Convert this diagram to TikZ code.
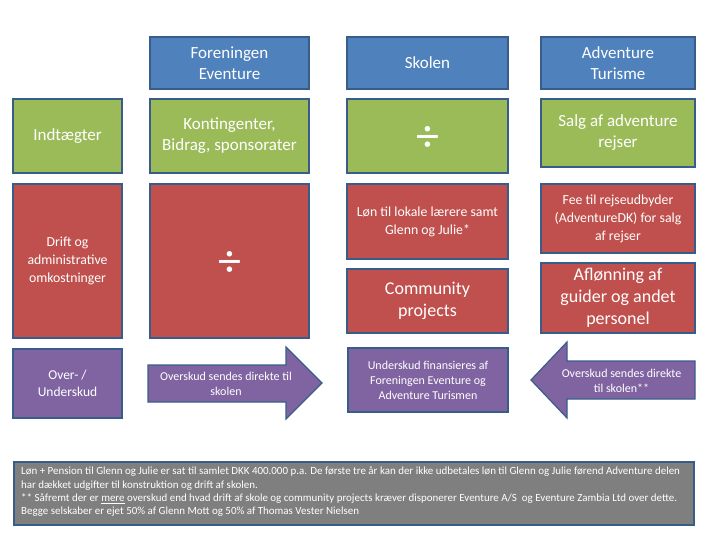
\documentclass[tikz,border=0pt]{standalone}
\usepackage{fontspec}
\setmainfont{Carlito}
\usetikzlibrary{positioning}

\definecolor{hdrblue}{HTML}{4F81BD}
\definecolor{incgreen}{HTML}{9BBB59}
\definecolor{costred}{HTML}{C0504D}
\definecolor{sumpurple}{HTML}{8064A2}
\definecolor{notegray}{HTML}{7F7F7F}
\definecolor{edgeblue}{HTML}{385D8A}

\tikzset{
  box/.style={rectangle,draw=edgeblue,line width=1.2pt,text=white,align=center,inner sep=1pt},
  hdrbox/.style={box,fill=hdrblue,font=\fontsize{17}{21}\selectfont},
  incbox/.style={box,fill=incgreen,font=\fontsize{17}{21}\selectfont},
  costbox/.style={box,fill=costred,font=\fontsize{13.8}{18}\selectfont},
  bigcost/.style={box,fill=costred,font=\fontsize{18}{22}\selectfont},
  sumbox/.style={box,fill=sumpurple,font=\fontsize{13.5}{17}\selectfont},
  arrowshape/.style={draw=edgeblue,line width=1.2pt,fill=sumpurple},
  arrowtext/.style={text=white,align=center,font=\fontsize{12}{15}\selectfont},
  divsign/.style={text=white,font=\fontsize{46}{46}\selectfont}
}

\begin{document}
\begin{tikzpicture}[x=1pt,y=-1pt]
\useasboundingbox (0,0) rectangle (720,540);

% kolonne-overskrifter
\node[hdrbox,minimum width=159,minimum height=52] (foren) at (229.5,63) {Foreningen\\Eventure};
\node[hdrbox,minimum width=161,minimum height=52] (skolen) at (427.5,63) {Skolen};
\node[hdrbox,minimum width=154,minimum height=52] (advtur) at (618,63) {Adventure\\Turisme};

% indtaegter
\node[incbox,minimum width=109,minimum height=74] (indt) at (67.5,136) {Indtægter};
\node[incbox,minimum width=159,minimum height=74] (konting) at (229.5,136) {Kontingenter,\\Bidrag, sponsorater};
\node[incbox,minimum width=161,minimum height=74] (skoleinc) at (427.5,136) {};
\node[divsign] (skolediv) at (427.5,139) {÷};
\node[incbox,minimum width=154,minimum height=68] (salg) at (618,133) {Salg af adventure\\rejser};

% omkostninger
\node[costbox,minimum width=109,minimum height=154] (drift) at (67.5,261) {Drift og\\administrative\\omkostninger};
\node[costbox,minimum width=159,minimum height=154] (forencost) at (229.5,261) {};
\node[divsign] (forendiv) at (229.5,264) {÷};
\node[costbox,minimum width=161,minimum height=75] (loen) at (427.5,221.5) {Løn til lokale lærere samt\\Glenn og Julie*};
\node[bigcost,minimum width=161,minimum height=64] (commun) at (427.5,301) {Community\\projects};
\node[costbox,minimum width=154,minimum height=69] (fee) at (618,218.5) {Fee til rejseudbyder\\(AdventureDK) for salg\\af rejser};
\node[bigcost,minimum width=154,minimum height=70] (afloen) at (618,298) {Aflønning af\\guider og andet\\personel};

% over-/underskud
\node[sumbox,minimum width=109,minimum height=69] (resultat) at (67.5,383.5) {Over- /\\Underskud};
\draw[arrowshape] (148,365) -- (286,365) -- (286,347) -- (322,383) -- (286,419) -- (286,402) -- (148,402) -- cycle;
\node[arrowtext] (overhoejre) at (226,384) {Overskud sendes direkte til\\skolen};
\node[sumbox,minimum width=160,minimum height=64,font=\fontsize{12}{15}\selectfont] (underskud) at (428,380) {Underskud finansieres af\\Foreningen Eventure og\\Adventure Turismen};
\draw[arrowshape] (695,361) -- (567,361) -- (567,342) -- (531,380) -- (567,418) -- (567,399) -- (695,399) -- cycle;
\node[arrowtext] (overvenstre) at (621.5,380.5) {Overskud sendes direkte\\til skolen**};

% fodnote
\draw[fill=notegray,draw=edgeblue,line width=1.2pt] (14,462) rectangle (694,525);
\node[anchor=north west,inner sep=0pt,text=white,align=left,font=\fontsize{10.95}{13.2}\selectfont] (note) at (21,467) {Løn + Pension til Glenn og Julie er sat til samlet DKK 400.000 p.a. De første tre år kan der ikke udbetales løn til Glenn og Julie førend Adventure delen\\har dækket udgifter til konstruktion og drift af skolen.\\** Såfremt der er \underline{mere} overskud end hvad drift af skole og community projects kræver disponerer Eventure A/S\ \ og Eventure Zambia Ltd over dette.\\Begge selskaber er ejet 50\% af Glenn Mott og 50\% af Thomas Vester Nielsen};

\end{tikzpicture}
\end{document}
